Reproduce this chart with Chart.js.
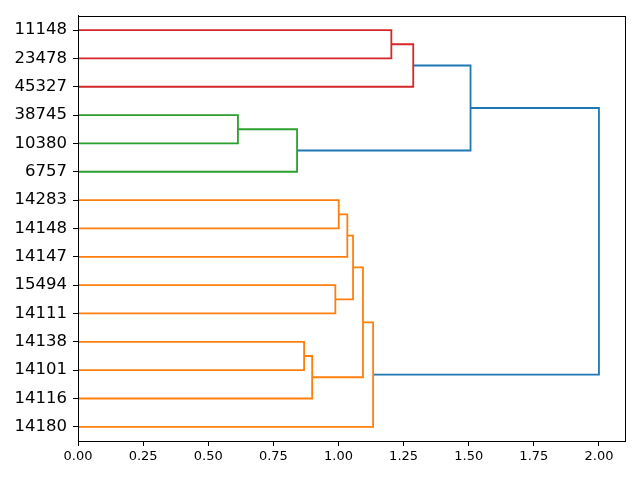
<!DOCTYPE html>
<html>
<head>
<meta charset="utf-8">
<script src="https://cdn.jsdelivr.net/npm/chart.js@4.4.1/dist/chart.umd.min.js"></script>
<style>
  html, body { margin: 0; padding: 0; background: #fff; }
  canvas { display: block; }
</style>
</head>
<body>
<canvas id="dendro" width="640" height="480"></canvas>
<script>
// leaves, top to bottom
const leafLabels = ['11148', '23478', '45327', '38745', '10380', '6757', '14283', '14148',
    '14147', '15494', '14111', '14138', '14101', '14116', '14180'];

// merges (scipy style: leaves are 0..14, new clusters 15..)
const mergeLeft = [3, 15, 11, 17, 9, 6, 20, 21, 22, 23, 0, 25, 26, 27];
const mergeRight = [4, 5, 12, 13, 10, 7, 8, 19, 18, 14, 1, 2, 16, 24];
const mergeHeight = [0.614, 0.841, 0.868, 0.899, 0.988, 1.001, 1.034, 1.056, 1.094, 1.133, 1.203, 1.287, 1.507, 2.0];

const xTicks = [0, 0.25, 0.5, 0.75, 1.0, 1.25, 1.5, 1.75, 2.0];
const colorThreshold = 1.4;

const clusterColors = ['#ff7f0e', '#2ca02c', '#d62728'];
const aboveColor = '#1f77b4';

const nLeaves = leafLabels.length;
const pos = [];
const height = [];
leafLabels.forEach((_, i) => { pos[i] = 10 * (nLeaves - i) - 5; height[i] = 0; });
mergeLeft.forEach((a, k) => {
    const b = mergeRight[k];
    pos[nLeaves + k] = (pos[a] + pos[b]) / 2;
    height[nLeaves + k] = mergeHeight[k];
});

// parent of each node
const parent = [];
mergeLeft.forEach((a, k) => { parent[a] = nLeaves + k; parent[mergeRight[k]] = nLeaves + k; });

// cluster roots below the threshold, coloured from the bottom up
const roots = [];
mergeHeight.forEach((h, k) => {
    const id = nLeaves + k;
    if (h < colorThreshold && (parent[id] === undefined || height[parent[id]] >= colorThreshold)) roots.push(id);
});
roots.sort((a, b) => pos[a] - pos[b]);
const rootColor = {};
roots.forEach((r, i) => { rootColor[r] = clusterColors[i % clusterColors.length]; });

function linkColor(id) {
    if (height[id] >= colorThreshold) return aboveColor;
    let r = id;
    while (rootColor[r] === undefined) r = parent[r];
    return rootColor[r];
}

const datasets = mergeLeft.map((a, k) => {
    const b = mergeRight[k];
    const id = nLeaves + k;
    const h = mergeHeight[k];
    return {
        data: [
            { x: height[a], y: pos[a] },
            { x: h, y: pos[a] },
            { x: h, y: pos[b] },
            { x: height[b], y: pos[b] }
        ],
        showLine: true,
        borderColor: linkColor(id),
        borderWidth: 1.8,
        pointRadius: 0,
        fill: false,
        tension: 0
    };
});

const frame = {
    id: 'frame',
    afterDatasetsDraw(chart) {
        const { ctx, chartArea: a } = chart;
        ctx.save();
        ctx.strokeStyle = '#000';
        ctx.lineWidth = 1;
        ctx.strokeRect(Math.round(a.left) + 0.5, Math.round(a.top) + 0.5,
            Math.round(a.right - a.left), Math.round(a.bottom - a.top));
        ctx.restore();
    }
};

new Chart(document.getElementById('dendro'), {
    type: 'scatter',
    data: { datasets },
    options: {
        responsive: false,
        animation: false,
        devicePixelRatio: 1,
        layout: { padding: { top: 15, right: 15, left: 0, bottom: 0 } },
        plugins: { legend: { display: false }, tooltip: { enabled: false } },
        scales: {
            x: {
                type: 'linear',
                min: 0,
                max: 2.1,
                afterBuildTicks(scale) { scale.ticks = xTicks.map(v => ({ value: v })); },
                afterFit(scale) { scale.height = 39; },
                ticks: {
                    color: '#000',
                    font: { family: 'DejaVu Sans', size: 13 },
                    padding: 3,
                    maxRotation: 0,
                    callback: v => Number(v).toFixed(2)
                },
                grid: { drawOnChartArea: false, color: '#000', tickLength: 5 },
                border: { color: '#000' }
            },
            y: {
                type: 'linear',
                min: 0,
                max: 10 * nLeaves,
                afterBuildTicks(scale) { scale.ticks = leafLabels.map((_, i) => ({ value: pos[i] })); },
                afterFit(scale) { scale.width = 78; },
                ticks: {
                    color: '#000',
                    font: { family: 'DejaVu Sans', size: 16.5 },
                    padding: 6,
                    callback: v => leafLabels[nLeaves - (v + 5) / 10]
                },
                grid: { drawOnChartArea: false, color: '#000', tickLength: 5 },
                border: { color: '#000' }
            }
        }
    },
    plugins: [frame]
});
</script>
</body>
</html>
